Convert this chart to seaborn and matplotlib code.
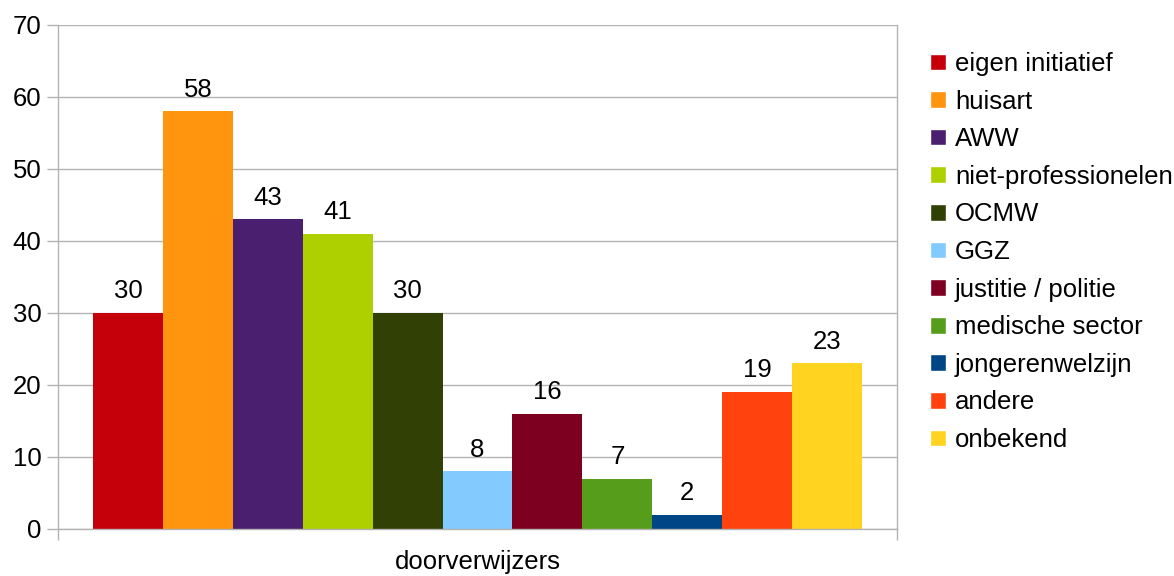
import matplotlib
matplotlib.use("Agg")
import matplotlib.pyplot as plt
import seaborn as sns
import pandas as pd

categories = ["eigen initiatief", "huisart", "AWW", "niet-professionelen", "OCMW", "GGZ",
              "justitie / politie", "medische sector", "jongerenwelzijn", "andere", "onbekend"]
values = [30, 58, 43, 41, 30, 8, 16, 7, 2, 19, 23]
group = "doorverwijzers"
colors = ["#c5000b", "#ff950e", "#4b1f6f", "#aecf00", "#314004", "#83caff",
          "#7e0021", "#579d1c", "#004586", "#ff420e", "#ffd320"]

sns.set_theme(style="white")
plt.rcParams["font.family"] = ["Liberation Sans", "DejaVu Sans"]
FS = 18.5

df = pd.DataFrame({"group": [group] * len(values), "name": categories, "value": values})

fig = plt.figure(figsize=(11.74, 5.76), dpi=100)
ax = fig.add_axes([58 / 1174, 47 / 576, (897 - 58) / 1174, (529 - 25) / 576])

sns.barplot(data=df, x="group", y="value", hue="name", hue_order=categories,
            palette=colors, saturation=1, width=769 / 839, ax=ax, legend=True)

for c in ax.containers:
    ax.bar_label(c, padding=7, fontsize=FS, color="#000000")
    for p in c.patches:
        p.set_linewidth(0)

gc = "#b3b3b3"
ax.set_ylim(0, 70)
ax.set_xlim(-0.5, 0.5)
ax.set_yticks(range(0, 71, 10))
ax.yaxis.grid(True, color=gc, linewidth=1)
ax.set_axisbelow(True)
ax.tick_params(axis="y", which="major", length=8, width=1, color=gc, pad=4, labelsize=FS, left=True)
ax.set_xticks([0])
ax.set_xticklabels([group])
ax.set_xticks([-0.5, 0.5], minor=True)
ax.tick_params(axis="x", which="major", length=0, pad=15, labelsize=FS)
ax.tick_params(axis="x", which="minor", length=8, width=1, color=gc, bottom=True)
ax.set_xlabel("")
ax.set_ylabel("")
for s in ["left", "right", "bottom"]:
    ax.spines[s].set_visible(True)
    ax.spines[s].set_color(gc)
    ax.spines[s].set_linewidth(1)
ax.spines["top"].set_visible(False)
for t in ax.get_yticklabels() + ax.get_xticklabels():
    t.set_color("#000000")

handles, labels = ax.get_legend_handles_labels()
leg = ax.legend(handles, labels, loc="center left", bbox_to_anchor=(930 / 1174, (576 - 252) / 576),
                bbox_transform=fig.transFigure, frameon=False, fontsize=FS,
                handlelength=0.62, handleheight=0.62, handletextpad=0.35, labelspacing=0.53,
                borderaxespad=0, borderpad=0)
for t in leg.get_texts():
    t.set_color("#000000")

fig.savefig("out.png", dpi=100)
